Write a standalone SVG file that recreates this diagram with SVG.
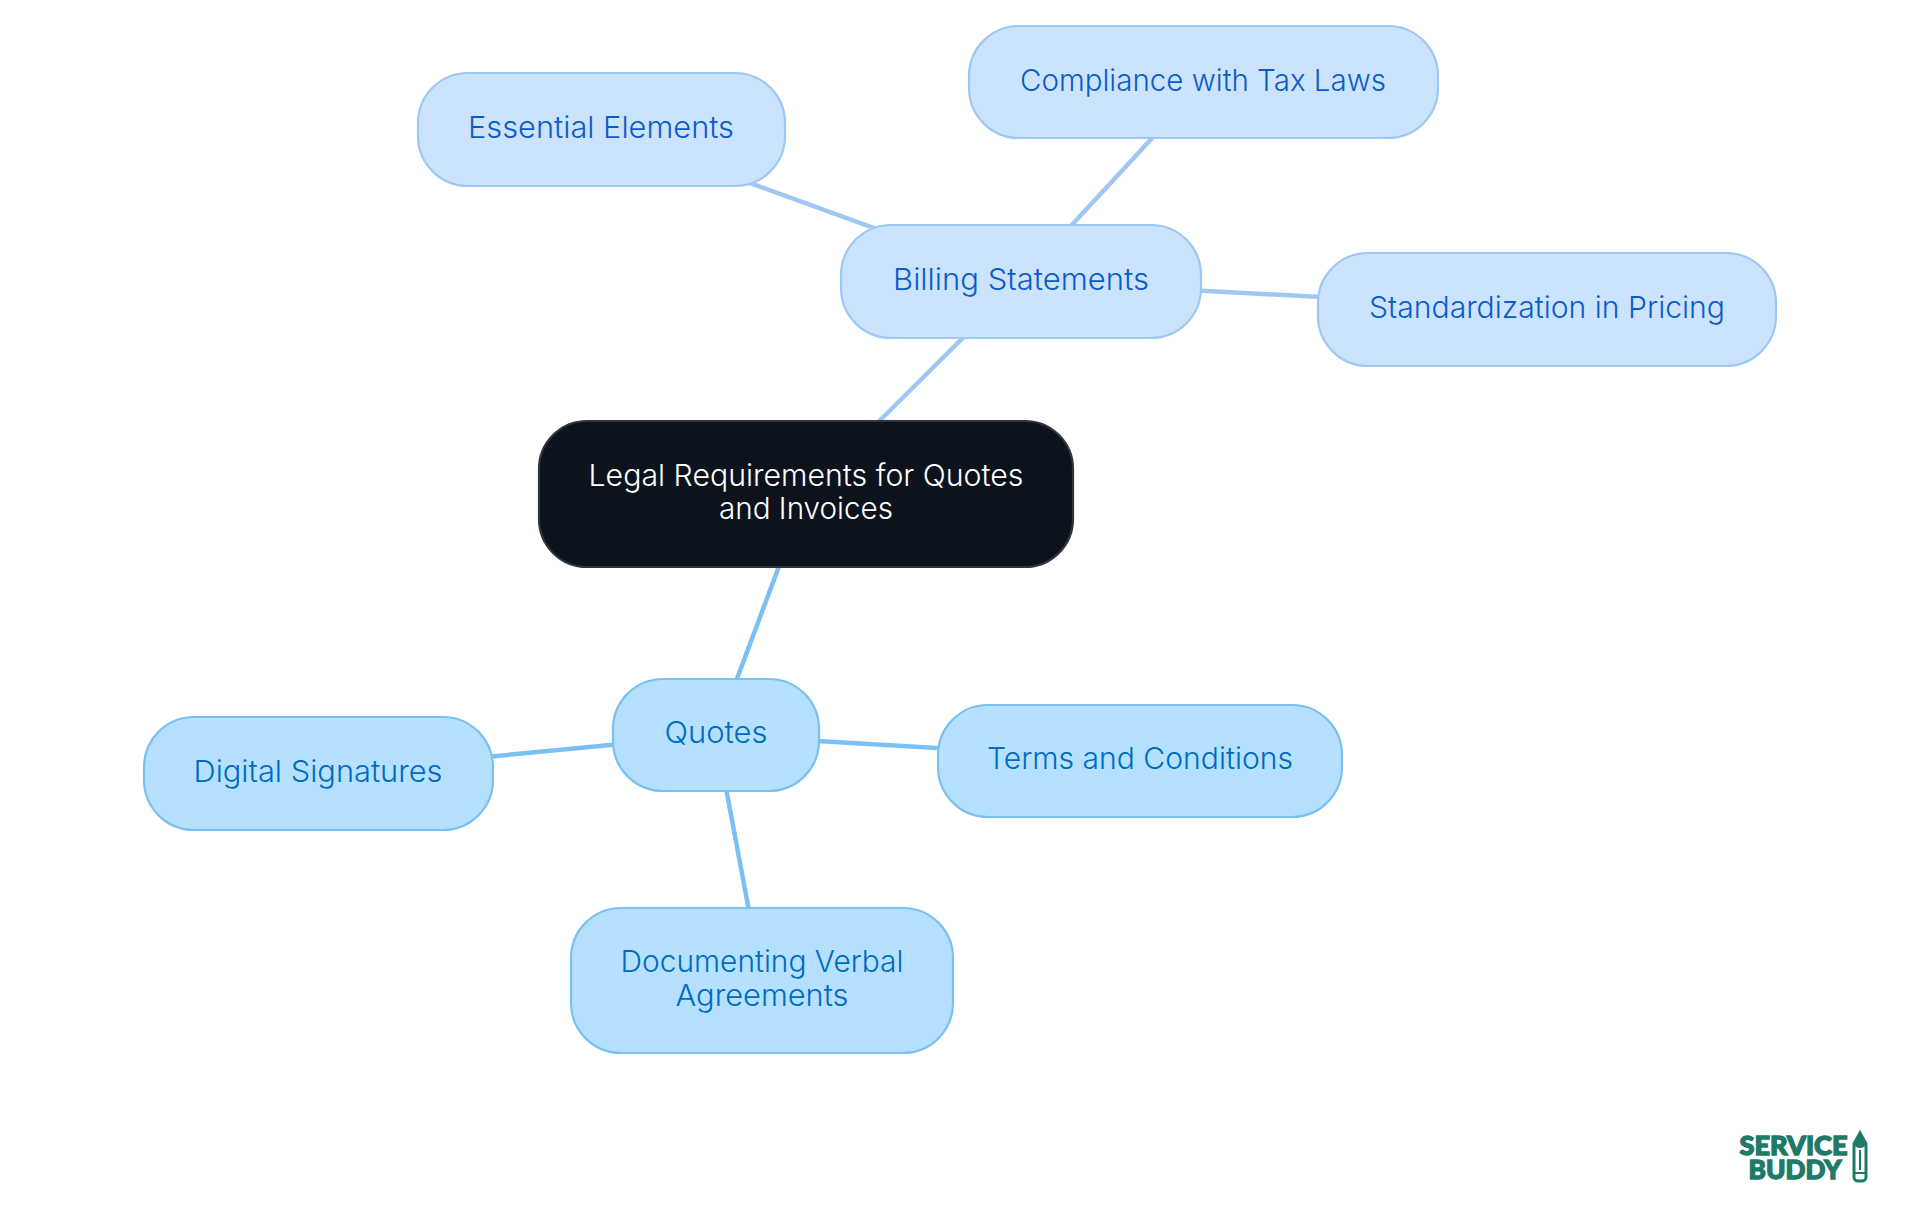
<svg xmlns="http://www.w3.org/2000/svg" width="1920" height="1215" viewBox="0 0 1920 1215">
<style>
text{font-family:"Inter","Noto Sans",sans-serif;font-size:30px;font-weight:350;text-anchor:middle}
.n{stroke-width:2.2}
.b rect{fill:#cce3fd;stroke:#9ec8f3}.b text{fill:#0a5ccb}
.q rect{fill:#b5e0ff;stroke:#7bc0f3}.q text{fill:#006bc2}
.r rect{fill:#0c131c;stroke:#2f353d}.r text{fill:#fff}
.cb{stroke:#9ec8f3;stroke-width:4.5;fill:none}
.cq{stroke:#7bc0f3;stroke-width:4.5;fill:none}
#logo text{font-family:"Lato",sans-serif;font-weight:900;font-size:27px;fill:#1f7a68;stroke:#1f7a68;stroke-width:1.4}
</style>
<rect width="1920" height="1215" fill="#fff"/>
<g id="connectors">
<line class="cb" x1="806" y1="494" x2="1020" y2="281"/>
<line class="cb" x1="1020" y1="281" x2="601" y2="129"/>
<line class="cb" x1="1020" y1="281" x2="1204" y2="82"/>
<line class="cb" x1="1020" y1="281" x2="1547" y2="309"/>
<line class="cq" x1="806" y1="494" x2="716" y2="735"/>
<line class="cq" x1="716" y1="735" x2="318" y2="773"/>
<line class="cq" x1="716" y1="735" x2="1140" y2="760"/>
<line class="cq" x1="716" y1="735" x2="762" y2="980"/>
</g>
<g id="root" class="r"><rect class="n" x="539" y="421" width="534" height="146" rx="48"/><text x="806" y="486" textLength="435" lengthAdjust="spacingAndGlyphs">Legal Requirements for Quotes</text><text x="806" y="519" textLength="174" lengthAdjust="spacingAndGlyphs">and Invoices</text></g>
<g id="billing" class="b"><rect class="n" x="841" y="225" width="360" height="113" rx="50"/><text x="1021" y="290" textLength="256" lengthAdjust="spacingAndGlyphs">Billing Statements</text></g>
<g id="essential" class="b"><rect class="n" x="418" y="73" width="367" height="113" rx="50"/><text x="601" y="138" textLength="266" lengthAdjust="spacingAndGlyphs">Essential Elements</text></g>
<g id="compliance" class="b"><rect class="n" x="969" y="26" width="469" height="112" rx="50"/><text x="1203" y="91" textLength="366" lengthAdjust="spacingAndGlyphs">Compliance with Tax Laws</text></g>
<g id="standardization" class="b"><rect class="n" x="1318" y="253" width="458" height="113" rx="50"/><text x="1547" y="318" textLength="356" lengthAdjust="spacingAndGlyphs">Standardization in Pricing</text></g>
<g id="quotes" class="q"><rect class="n" x="613" y="679" width="206" height="112" rx="50"/><text x="716" y="743" textLength="103" lengthAdjust="spacingAndGlyphs">Quotes</text></g>
<g id="digital" class="q"><rect class="n" x="144" y="717" width="349" height="113" rx="50"/><text x="318" y="782" textLength="249" lengthAdjust="spacingAndGlyphs">Digital Signatures</text></g>
<g id="terms" class="q"><rect class="n" x="938" y="705" width="404" height="112" rx="50"/><text x="1140" y="769" textLength="306" lengthAdjust="spacingAndGlyphs">Terms and Conditions</text></g>
<g id="documenting" class="q"><rect class="n" x="571" y="908" width="382" height="145" rx="50"/><text x="762" y="972" textLength="283" lengthAdjust="spacingAndGlyphs">Documenting Verbal</text><text x="762" y="1006" textLength="173" lengthAdjust="spacingAndGlyphs">Agreements</text></g>
<g id="logo">
<text><tspan x="1793.500" y="1155" textLength="108" lengthAdjust="spacingAndGlyphs">SERVICE</tspan><tspan x="1795" y="1179" textLength="93" lengthAdjust="spacingAndGlyphs">BUDDY</tspan></text>
<path d="M1860 1133l6 11v33a4 4 0 0 1-4 4h-4a4 4 0 0 1-4-4v-33z" fill="none" stroke="#1f7a68" stroke-width="3"/>
<path d="M1860 1133l6 11a6 4 0 0 1-12 0z" fill="#1f7a68"/>
<path d="M1860 1150v20M1855 1173h10" fill="none" stroke="#1f7a68" stroke-width="2"/>
</g>
</svg>
